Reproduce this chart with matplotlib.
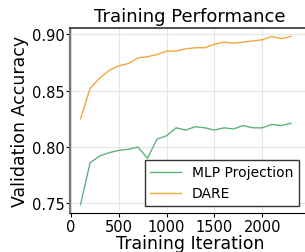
import matplotlib.pyplot as plt

iterations = list(range(100, 2400, 100))
mlp_projection = [0.749, 0.786, 0.792, 0.795, 0.797, 0.798, 0.800, 0.790, 0.807, 0.810,
                  0.817, 0.815, 0.818, 0.817, 0.815, 0.817, 0.816, 0.819, 0.817, 0.817,
                  0.820, 0.819, 0.821]
dare = [0.825, 0.852, 0.861, 0.868, 0.872, 0.874, 0.879, 0.880, 0.882, 0.885,
        0.885, 0.887, 0.888, 0.888, 0.891, 0.893, 0.892, 0.893, 0.894, 0.895,
        0.898, 0.896, 0.898]

fig = plt.figure(figsize=(3.05, 2.53), dpi=100)
# right side of the axes runs past the figure edge, like the reference crop
ax = fig.add_axes([70 / 305, 1 - 214 / 253, 240 / 305, 185 / 253])

ax.plot(iterations, mlp_projection, color='#5fb37e', linewidth=1, label='MLP Projection')
ax.plot(iterations, dare, color='#f5a63c', linewidth=1, label='DARE')

ax.set_xlim(-10, 2500)
ax.set_ylim(0.7415, 0.9055)
ax.set_xticks([0, 500, 1000, 1500, 2000])
ax.set_yticks([0.75, 0.80, 0.85, 0.90])
ax.grid(True, color='#e6e6e6', linewidth=0.8)
ax.set_axisbelow(True)

ax.spines['left'].set_color('#777777')
ax.spines['left'].set_linewidth(1.6)
ax.spines['top'].set_color('#333333')
ax.spines['top'].set_linewidth(1.2)
ax.spines['bottom'].set_color('black')
ax.tick_params(labelsize=10.5, length=3, pad=1)

ax.set_title('Training Performance', fontsize=13, pad=5)
ax.set_xlabel('Training Iteration', fontsize=12.5, labelpad=0)
ax.set_ylabel('Validation Accuracy', fontsize=12.5, labelpad=2)

leg = ax.legend(loc='lower right', bbox_to_anchor=(0.954, 0.038), borderaxespad=0,
                fontsize=10, fancybox=False, framealpha=1, borderpad=0.4,
                handlelength=2.2)
leg.get_frame().set_edgecolor('#333333')
leg.get_frame().set_linewidth(1)

fig.savefig('out.png', dpi=100)
